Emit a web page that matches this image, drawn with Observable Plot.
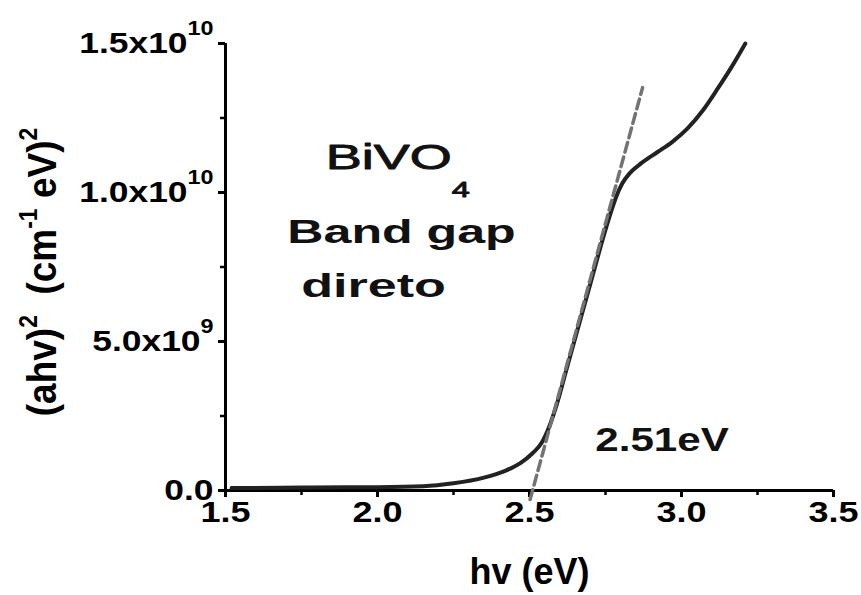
<!DOCTYPE html>
<html>
<head>
<meta charset="utf-8">
<script src="https://cdn.jsdelivr.net/npm/d3@7"></script>
<script src="https://cdn.jsdelivr.net/npm/@observablehq/plot@0.6"></script>
<style>
  body { margin: 0; background: #fff; }
  #chart { width: 861px; height: 595px; }
</style>
</head>
<body>
<div id="chart"></div>
<script>
// Tauc plot of BiVO4: (αhν)² against photon energy, with the linear fit of the absorption edge

// photon energy (eV)
const hv = [1.52, 1.75, 2.00, 2.15, 2.25, 2.35, 2.42, 2.47, 2.51, 2.54, 2.565, 2.59, 2.62,
            2.65, 2.68, 2.71, 2.74, 2.765, 2.785, 2.805, 2.83, 2.87, 2.92, 2.97, 3.02,
            3.07, 3.12, 3.17, 3.21];
// (αhν)² (cm⁻¹ eV)²
const ahv2 = [0.008e10, 0.010e10, 0.011e10, 0.014e10, 0.024e10, 0.043e10, 0.066e10, 0.092e10,
              0.125e10, 0.160e10, 0.215e10, 0.29e10, 0.40e10, 0.51e10, 0.62e10, 0.73e10,
              0.84e10, 0.925e10, 0.985e10, 1.03e10, 1.065e10, 1.10e10, 1.135e10, 1.17e10,
              1.215e10, 1.275e10, 1.35e10, 1.43e10, 1.50e10];

// linear fit of the edge: crosses zero at the band gap, ends at (fitEndHv, fitEndAhv2)
const bandGap = 2.51;
const fitEndHv = 2.872;
const fitEndAhv2 = 1.352e10;
const fitBelowZero = 0.03e10;

// axes
const xDomain = [1.5, 3.5];
const yDomain = [0, 1.5e10];
const xMajor = [1.5, 2.0, 2.5, 3.0, 3.5];
const xMinor = [1.75, 2.25, 2.75, 3.25];
const yMajor = [0, 5e9, 1e10, 1.5e10];
const yMinor = [2.5e9, 7.5e9, 1.25e10];

// texts (^{..} superscript, _{..} subscript)
const xTitle = "hv (eV)";
const yTitle = "(ahv)^{2}  (cm^{-1} eV)^{2}";
const sampleLabel = "BiVO_{4}";
const noteLines = ["Band gap", "direto"];
const gapLabel = `${bandGap.toFixed(2)}eV`;

const curve = hv.map((e, i) => ({hv: e, v: ahv2[i]}));
const slope = fitEndAhv2 / (fitEndHv - bandGap);
const fit = [
  {hv: bandGap - fitBelowZero / slope, v: -fitBelowZero},
  {hv: fitEndHv, v: fitEndAhv2}
];

const fmtX = (d) => d.toFixed(1);
const fmtY = (v) => {
  if (v === 0) return "0.0";
  const e = Math.floor(Math.log10(v) + 1e-9);
  return `${(v / 10 ** e).toFixed(1)}x10^{${e}}`;
};

const font = "'Liberation Sans', Arial, Helvetica, sans-serif";

const plot = Plot.plot({
  width: 861,
  height: 595,
  marginLeft: 225,
  marginRight: 28,
  marginTop: 43,
  marginBottom: 105,
  style: {fontFamily: font, color: "#000", background: "#fff"},
  x: {domain: xDomain, label: null},
  y: {domain: yDomain, label: null},
  marks: [
    Plot.axisX({ticks: xMajor, tickSize: 7, tickPadding: 3, strokeWidth: 3,
                tickFormat: fmtX, fontSize: 30, fontWeight: "bold", label: null}),
    Plot.axisX({ticks: xMinor, tickSize: 5, strokeWidth: 2.5, tickFormat: () => "", label: null}),
    Plot.axisY({ticks: yMajor, tickSize: 7, tickPadding: 5, strokeWidth: 3,
                tickFormat: fmtY, fontSize: 30, fontWeight: "bold", label: null}),
    Plot.axisY({ticks: yMinor, tickSize: 5, strokeWidth: 2.5, tickFormat: () => "", label: null}),
    Plot.ruleY([yDomain[0]], {x1: xDomain[0], x2: xDomain[1], strokeWidth: 3}),
    Plot.ruleX([xDomain[0]], {y1: yDomain[0], y2: yDomain[1], strokeWidth: 3}),

    Plot.line(curve, {x: "hv", y: "v", stroke: "#222", strokeWidth: 4, curve: "monotone-x"}),
    Plot.line(fit, {x: "hv", y: "v", stroke: "#737373", strokeWidth: 3.5, strokeDasharray: "10,5"}),

    Plot.text([{hv: 2.067, v: 1.0805e10, t: sampleLabel}],
              {x: "hv", y: "v", text: "t", fontSize: 36, lineAnchor: "bottom",
               fill: "#111", stroke: "#111", strokeWidth: 0.9}),
    Plot.text([{hv: 2.079, v: 0.832e10, t: noteLines[0]}, {hv: 1.987, v: 0.648e10, t: noteLines[1]}],
              {x: "hv", y: "v", text: "t", fontSize: 33, fontWeight: "bold", lineAnchor: "bottom", fill: "#111"}),
    Plot.text([{hv: 2.936, v: 0.134e10, t: gapLabel}],
              {x: "hv", y: "v", text: "t", fontSize: 34, fontWeight: "bold", lineAnchor: "bottom", fill: "#111"}),

    Plot.text([xTitle], {frameAnchor: "bottom", dy: 93, fontSize: 36, fontWeight: "bold",
                         lineAnchor: "bottom", textAnchor: "middle"}),
    Plot.text([yTitle], {frameAnchor: "left", rotate: -90, dx: -183, dy: 5, fontSize: 37,
                         fontWeight: "bold", lineAnchor: "middle", textAnchor: "middle"})
  ]
});

// horizontal widening of the lettering; for rotated text the widening is along local y
const widen = new Map([
  [sampleLabel, [1.5, 1]],
  [noteLines[0], [1.52, 1]],
  [noteLines[1], [1.58, 1]],
  [gapLabel, [1.24, 1]],
  [yTitle, [1, 1.12]],
  ...xMajor.map((d) => [fmtX(d), [1.2, 1]]),
  ...yMajor.map((d) => [fmtY(d), [1.18, 1]])
]);
// script shift (in em of the base size) and script size ratio
const scriptStyle = new Map([
  [sampleLabel, {sup: 0.5, sub: -0.78, r: 0.6}],
  [yTitle, {sup: 0.45, sub: -0.2, r: 0.62}]
]);
const defaultScript = {sup: 0.6, sub: -0.2, r: 0.66};

const NS = "http://www.w3.org/2000/svg";
function setRich(el, s, {sup, sub, r}) {
  el.textContent = "";
  const re = /([\^_])\{([^}]*)\}/g;
  let last = 0, pending = 0, m;
  const add = (str, size, dy) => {
    const ts = document.createElementNS(NS, "tspan");
    if (size) ts.setAttribute("font-size", size);
    if (dy) ts.setAttribute("dy", `${dy}em`);
    ts.textContent = str;
    el.appendChild(ts);
  };
  while ((m = re.exec(s))) {
    if (m.index > last) { add(s.slice(last, m.index), null, pending); pending = 0; }
    const k = m[1] === "^" ? sup : sub;
    add(m[2], `${r * 100}%`, -(k / r) + (pending / r));
    pending = k;
    last = re.lastIndex;
  }
  if (last < s.length) add(s.slice(last), null, pending);
}

for (const t of plot.querySelectorAll("text")) {
  const raw = t.textContent;
  const w = widen.get(raw);
  if (w) {
    const tr = t.getAttribute("transform") || "";
    const x = +(t.getAttribute("x") || 0);
    t.setAttribute("transform", `${tr} translate(${x},0) scale(${w[0]},${w[1]}) translate(${-x},0)`);
  }
  if (/[\^_]\{/.test(raw)) setRich(t, raw, scriptStyle.get(raw) || defaultScript);
}

document.getElementById("chart").appendChild(plot);
</script>
</body>
</html>
